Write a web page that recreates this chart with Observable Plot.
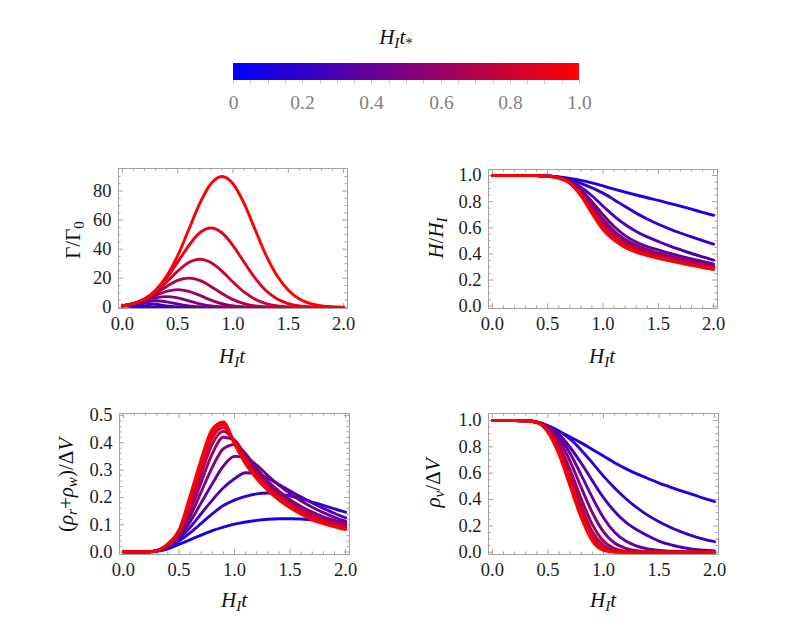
<!DOCTYPE html>
<html><head><meta charset="utf-8">
<script src="https://cdn.jsdelivr.net/npm/d3@7"></script>
<script src="https://cdn.jsdelivr.net/npm/@observablehq/plot@0.6"></script>
<style>
body{margin:0;background:#fff;}
#root{position:relative;width:789px;height:634px;overflow:hidden;background:#fff;font-family:'Liberation Serif';}
.abs{position:absolute;}
.lab{position:absolute;font-family:'Liberation Serif';font-size:21px;color:#111;white-space:nowrap;line-height:1;}
.lab sub{font-size:72%;vertical-align:-0.28em;line-height:0;}
.lab.rot{transform:translate(-50%,-50%) rotate(-90deg);}
.lab.hor{transform:translate(-50%,-50%);}
</style></head><body><div id="root"></div>
<script>
// ---------- data ----------
const xGrid = [0,0.1,0.2,0.3,0.4,0.5,0.6,0.7,0.8,0.9,1.0,1.1,1.2,1.3,1.4,1.5,1.6,1.7,1.8,1.9,2.0];
const tStar = [0.1,0.2,0.3,0.4,0.5,0.6,0.7,0.8,0.9,1.0];

const gammaCurves = [
  [1,0.6,0.15,0.02,0,0,0,0,0,0,0,0,0,0,0,0,0,0,0,0,0],
  [1,1.65,1,0.22,0.02,0,0,0,0,0,0,0,0,0,0,0,0,0,0,0,0],
  [1,2.12,2.72,2.12,1,0.29,0.05,0.005,0,0,0,0,0,0,0,0,0,0,0,0,0],
  [1,2.3,3.79,4.48,3.79,2.3,1,0.31,0.07,0.011,0.001,0,0,0,0,0,0,0,0,0,0],
  [1,2.4,4.48,6.52,7.39,6.52,4.48,2.4,1,0.32,0.08,0.016,0.002,0,0,0,0,0,0,0,0],
  [1,2.46,4.95,8.17,11,12.2,11,8.17,4.95,2.46,1,0.33,0.09,0.02,0.004,0,0,0,0,0,0],
  [1,2.5,5.29,9.49,14.4,18.5,20.1,18.5,14.4,9.49,5.29,2.5,1,0.34,0.1,0.024,0.005,0.001,0,0,0],
  [1,2.53,5.55,10.6,17.4,24.9,30.8,33.1,30.8,24.9,17.4,10.6,5.55,2.53,1,0.34,0.1,0.026,0.006,0.001,0],
  [1,2.55,5.75,11.4,20.1,31.1,42.5,51.3,54.6,51.3,42.5,31.1,20.1,11.4,5.75,2.55,1,0.35,0.105,0.028,0.007],
  [1,2.5,5.7,11.8,21.5,35.5,53.5,71.5,85,90,85,71.5,53.5,35.5,21.5,11.8,5.7,2.5,1,0.35,0.11]
];

const hubbleCurves = [
  [1,1,1,1,1,0.997,0.99,0.978,0.963,0.943,0.92,0.896,0.873,0.851,0.83,0.81,0.787,0.765,0.742,0.718,0.695],
  [1,1,1,1,1,0.996,0.987,0.97,0.94,0.905,0.865,0.815,0.762,0.712,0.667,0.627,0.592,0.56,0.53,0.502,0.475],
  [1,1,1,1,1,0.996,0.986,0.96,0.91,0.845,0.765,0.69,0.625,0.572,0.53,0.495,0.462,0.432,0.403,0.377,0.353],
  [1,1,1,1,1,0.996,0.985,0.955,0.89,0.8,0.7,0.61,0.54,0.49,0.455,0.43,0.405,0.383,0.362,0.342,0.322],
  [1,1,1,1,1,0.995,0.984,0.952,0.878,0.775,0.665,0.575,0.51,0.465,0.432,0.407,0.385,0.364,0.345,0.327,0.31],
  [1,1,1,1,1,0.995,0.983,0.95,0.87,0.758,0.64,0.553,0.492,0.449,0.418,0.394,0.373,0.353,0.335,0.318,0.302],
  [1,1,1,1,1,0.995,0.983,0.947,0.862,0.745,0.622,0.537,0.478,0.437,0.408,0.385,0.364,0.345,0.328,0.311,0.295],
  [1,1,1,1,1,0.995,0.982,0.945,0.856,0.733,0.607,0.524,0.467,0.428,0.4,0.378,0.358,0.339,0.322,0.305,0.289],
  [1,1,1,1,1,0.995,0.982,0.943,0.85,0.722,0.595,0.513,0.458,0.42,0.393,0.372,0.352,0.333,0.316,0.3,0.284],
  [1,1,1,1,1,0.994,0.981,0.94,0.845,0.71,0.585,0.505,0.45,0.413,0.387,0.366,0.347,0.329,0.312,0.295,0.28]
];

const radWallCurves = [
  [0,0,0,0.003,0.012,0.028,0.045,0.062,0.078,0.091,0.102,0.11,0.116,0.12,0.122,0.122,0.121,0.118,0.115,0.112,0.108],
  [0,0,0,0.004,0.016,0.04,0.07,0.105,0.14,0.17,0.19,0.204,0.213,0.216,0.213,0.205,0.195,0.183,0.171,0.158,0.146],
  [0,0,0,0.004,0.018,0.048,0.09,0.14,0.19,0.235,0.268,0.29,0.287,0.27,0.247,0.224,0.201,0.18,0.16,0.142,0.125],
  [0,0,0,0.004,0.02,0.055,0.11,0.18,0.25,0.315,0.35,0.345,0.318,0.28,0.245,0.214,0.187,0.164,0.144,0.127,0.112],
  [0,0,0,0.005,0.022,0.062,0.13,0.22,0.31,0.378,0.393,0.36,0.306,0.26,0.223,0.192,0.167,0.146,0.129,0.116,0.104],
  [0,0,0,0.005,0.024,0.068,0.15,0.255,0.36,0.42,0.41,0.35,0.294,0.249,0.213,0.183,0.159,0.139,0.122,0.109,0.098],
  [0,0,0,0.005,0.026,0.072,0.165,0.285,0.395,0.442,0.408,0.342,0.286,0.241,0.206,0.177,0.153,0.133,0.117,0.104,0.093],
  [0,0,0,0.005,0.027,0.076,0.178,0.307,0.418,0.456,0.405,0.335,0.279,0.235,0.2,0.172,0.148,0.128,0.113,0.1,0.089],
  [0,0,0,0.005,0.028,0.078,0.19,0.325,0.435,0.467,0.4,0.328,0.273,0.23,0.195,0.167,0.143,0.123,0.108,0.096,0.085],
  [0,0,0,0.005,0.03,0.08,0.205,0.34,0.45,0.476,0.395,0.322,0.268,0.225,0.19,0.162,0.138,0.118,0.104,0.092,0.082]
];

const vacuumCurves = [
  [1,1,1,0.998,0.985,0.955,0.915,0.875,0.83,0.78,0.73,0.68,0.635,0.595,0.56,0.525,0.495,0.465,0.44,0.41,0.385],
  [1,1,1,0.998,0.985,0.962,0.92,0.858,0.775,0.678,0.578,0.488,0.408,0.338,0.28,0.232,0.19,0.155,0.125,0.1,0.08],
  [1,1,1,0.998,0.99,0.958,0.895,0.795,0.675,0.542,0.415,0.31,0.228,0.17,0.125,0.085,0.058,0.038,0.024,0.015,0.009],
  [1,1,1,0.998,0.99,0.955,0.875,0.75,0.585,0.415,0.262,0.152,0.085,0.047,0.026,0.014,0.008,0.004,0.002,0.001,0],
  [1,1,1,0.998,0.99,0.948,0.85,0.69,0.49,0.3,0.155,0.07,0.03,0.012,0.005,0.002,0,0,0,0,0],
  [1,1,1,0.998,0.988,0.938,0.815,0.625,0.405,0.21,0.085,0.028,0.008,0.002,0,0,0,0,0,0,0],
  [1,1,1,0.998,0.987,0.928,0.79,0.58,0.35,0.155,0.052,0.013,0.003,0,0,0,0,0,0,0,0],
  [1,1,1,0.998,0.986,0.921,0.77,0.55,0.31,0.122,0.033,0.006,0.001,0,0,0,0,0,0,0,0],
  [1,1,1,0.998,0.985,0.915,0.755,0.525,0.282,0.1,0.022,0.003,0,0,0,0,0,0,0,0,0],
  [1,1,1,0.998,0.985,0.91,0.74,0.5,0.26,0.085,0.015,0.002,0,0,0,0,0,0,0,0,0]
];

const xMajor = [0,0.5,1,1.5,2];
const xMinor = [0.1,0.2,0.3,0.4,0.6,0.7,0.8,0.9,1.1,1.2,1.3,1.4,1.6,1.7,1.8,1.9];
const gammaMajor = [0,20,40,60,80];
const gammaMinor = [5,10,15,25,30,35,45,50,55,65,70,75,85,90];
const unitMajor = [0,0.2,0.4,0.6,0.8,1.0];
const unitMinor = [0.05,0.1,0.15,0.25,0.3,0.35,0.45,0.5,0.55,0.65,0.7,0.75,0.85,0.9,0.95];
const halfMajor = [0,0.1,0.2,0.3,0.4,0.5];
const halfMinor = [0.02,0.04,0.06,0.08,0.12,0.14,0.16,0.18,0.22,0.24,0.26,0.28,0.32,0.34,0.36,0.38,0.42,0.44,0.46,0.48];
const legendTicks = [0,0.05,0.1,0.15,0.2,0.25,0.3,0.35,0.4,0.45,0.5,0.55,0.6,0.65,0.7,0.75,0.8,0.85,0.9,0.95,1.0];
const legendLabels = ["0","","","","0.2","","","","0.4","","","","0.6","","","","0.8","","","","1.0"];

// ---------- drawing ----------
const root = document.getElementById("root");
const colorScale = {type: "linear", domain: [0, 1], range: ["blue", "red"], interpolate: "rgb"};
const frameColor = "#a3a3a3";
const FONT = "'Liberation Serif'";

function panel({curves, yDomain, yMajor, yMinor, yFormat, left, top, fw, fh}) {
  const rows = [];
  curves.forEach((vals, i) => vals.forEach((v, j) => rows.push({x: xGrid[j], y: v, t: tStar[i]})));
  const mL = 60, mT = 20, mR = 14, mB = 40;
  const big = 5, small = 2.6;
  const svg = Plot.plot({
    width: mL + fw + mR, height: mT + fh + mB,
    marginLeft: mL, marginTop: mT, marginRight: mR, marginBottom: mB,
    x: {domain: [-0.035, 2.035]},
    y: {domain: yDomain},
    color: colorScale,
    style: {fontFamily: FONT, fontSize: "18.5px", color: "#1c1c1c", background: "transparent", overflow: "visible"},
    marks: [
      Plot.tickX(xMajor, {x: d => d, insetTop: fh - big, stroke: frameColor}),
      Plot.tickX(xMajor, {x: d => d, insetBottom: fh - big, stroke: frameColor}),
      Plot.tickX(xMinor, {x: d => d, insetTop: fh - small, stroke: frameColor}),
      Plot.tickX(xMinor, {x: d => d, insetBottom: fh - small, stroke: frameColor}),
      Plot.tickY(yMajor, {y: d => d, insetRight: fw - big, stroke: frameColor}),
      Plot.tickY(yMajor, {y: d => d, insetLeft: fw - big, stroke: frameColor}),
      Plot.tickY(yMinor, {y: d => d, insetRight: fw - small, stroke: frameColor}),
      Plot.tickY(yMinor, {y: d => d, insetLeft: fw - small, stroke: frameColor}),
      Plot.frame({stroke: frameColor}),
      Plot.line(rows, {x: "x", y: "y", z: "t", stroke: "t", strokeWidth: 2.9, curve: "monotone-x", clip: true}),
      Plot.axisX(xMajor, {tickSize: 0, tickPadding: 8, tickFormat: d => d.toFixed(1), label: null}),
      Plot.axisY(yMajor, {tickSize: 0, tickPadding: 7, tickFormat: yFormat, label: null})
    ]
  });
  const holder = document.createElement("div");
  holder.className = "abs";
  holder.style.left = (left - mL) + "px";
  holder.style.top = (top - mT) + "px";
  holder.appendChild(svg);
  root.appendChild(holder);
}

panel({curves: gammaCurves, yDomain: [-0.8, 95.5], yMajor: gammaMajor, yMinor: gammaMinor,
       yFormat: d => String(d), left: 118, top: 168, fw: 229, fh: 140});
panel({curves: hubbleCurves, yDomain: [-0.018, 1.046], yMajor: unitMajor, yMinor: unitMinor,
       yFormat: d => d.toFixed(1), left: 488, top: 169, fw: 229, fh: 139});
panel({curves: radWallCurves, yDomain: [-0.009, 0.507], yMajor: halfMajor, yMinor: halfMinor,
       yFormat: d => d.toFixed(1), left: 119, top: 413, fw: 230, fh: 141});
panel({curves: vacuumCurves, yDomain: [-0.017, 1.053], yMajor: unitMajor, yMinor: unitMinor,
       yFormat: d => d.toFixed(1), left: 488, top: 413, fw: 230, fh: 141});

// colour bar legend
const leg = Plot.legend({
  color: colorScale,
  width: 426, height: 60, marginLeft: 40, marginRight: 40, marginTop: 0, marginBottom: 43,
  ticks: legendTicks, tickSize: 4,
  tickFormat: d => legendLabels[legendTicks.indexOf(d)],
  label: null,
  style: {fontFamily: FONT, fontSize: "19.5px", color: "#808080", overflow: "visible", background: "transparent"}
});
const legHolder = document.createElement("div");
legHolder.className = "abs";
legHolder.style.left = (233.3 - 40) + "px";
legHolder.style.top = "62.7px";
legHolder.appendChild(leg);
root.appendChild(legHolder);
const legSvg = d3.select(legHolder).select("svg");
legSvg.selectAll(".tick line").attr("y1", 0).attr("y2", 4).attr("stroke", "#c8c8c8");
legSvg.selectAll(".tick text").attr("y", 15).attr("fill", "#808080");

// labels (real text)
function label(html, x, y, rot) {
  const d = document.createElement("div");
  d.className = "lab " + (rot ? "rot" : "hor");
  d.style.left = x + "px";
  d.style.top = y + "px";
  d.innerHTML = html;
  root.appendChild(d);
}
label('<i>H</i><sub><i>I</i></sub><i>t</i><sub>*</sub>', 396, 37, false);
const xl = '<i>H</i><sub><i>I</i></sub><i>t</i>';
label(xl, 232, 356, false);
label(xl, 602, 356, false);
label(xl, 234, 600, false);
label(xl, 603, 600, false);
label('Γ/Γ<sub>0</sub>', 73, 240, true);
label('<i>H</i>/<i>H</i><sub><i>I</i></sub>', 436, 238, true);
label('(<i>ρ</i><sub><i>r</i></sub>+<i>ρ</i><sub><i>w</i></sub>)/Δ<i>V</i>', 66, 485, true);
label('<i>ρ</i><sub><i>v</i></sub>/Δ<i>V</i>', 433, 483, true);
</script>
</body></html>
